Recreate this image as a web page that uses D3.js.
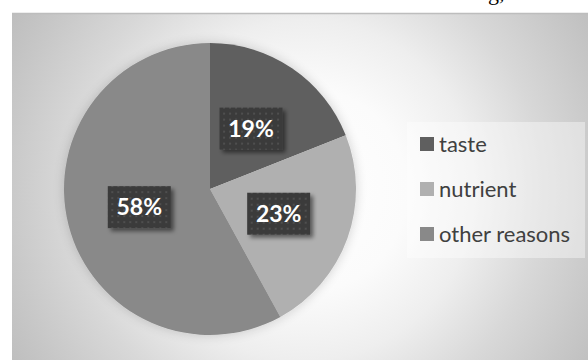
<!DOCTYPE html>
<html>
<head>
<meta charset="utf-8">
<script src="https://cdn.jsdelivr.net/npm/d3@7"></script>
<style>
  html, body { margin: 0; padding: 0; background: #ffffff; }
  svg { display: block; }
</style>
</head>
<body>
<svg id="chart" width="588" height="360"></svg>
<script>
// Reasons for choosing — share of respondents
const categories = ["taste", "nutrient", "other reasons"];
const shares = [19, 23, 58];
const sliceColors = ["#5f5f5f", "#b0b0b0", "#898989"];

const W = 588, H = 360;
const svg = d3.select("#chart");
const defs = svg.append("defs");

// Chart-area radial gradient
const grad = defs.append("radialGradient")
  .attr("id", "bgGrad")
  .attr("gradientUnits", "userSpaceOnUse")
  .attr("cx", 305).attr("cy", 190).attr("r", 340);
[[0, "#ffffff"], [0.3, "#fbfbfb"], [0.5, "#eeeeee"], [0.7, "#d8d8d8"], [0.88, "#c8c8c8"], [1, "#bebebe"]]
  .forEach(([o, c]) => grad.append("stop").attr("offset", o).attr("stop-color", c));

// Soft shadow around the pie
const pieShadow = defs.append("filter").attr("id", "pieShadow")
  .attr("x", "-20%").attr("y", "-20%").attr("width", "140%").attr("height", "140%");
pieShadow.append("feGaussianBlur").attr("in", "SourceAlpha").attr("stdDeviation", 6).attr("result", "b");
pieShadow.append("feOffset").attr("in", "b").attr("dx", 0).attr("dy", 0).attr("result", "o");
pieShadow.append("feComponentTransfer").attr("in", "o").attr("result", "s")
  .append("feFuncA").attr("type", "linear").attr("slope", 0.18);
const m1 = pieShadow.append("feMerge");
m1.append("feMergeNode").attr("in", "s");
m1.append("feMergeNode").attr("in", "SourceGraphic");

// Label box shadow
const boxShadow = defs.append("filter").attr("id", "boxShadow")
  .attr("x", "-30%").attr("y", "-30%").attr("width", "160%").attr("height", "160%");
boxShadow.append("feGaussianBlur").attr("in", "SourceAlpha").attr("stdDeviation", 2).attr("result", "b");
boxShadow.append("feOffset").attr("in", "b").attr("dx", 3).attr("dy", 3).attr("result", "o");
boxShadow.append("feComponentTransfer").attr("in", "o").attr("result", "s")
  .append("feFuncA").attr("type", "linear").attr("slope", 0.5);
const m2 = boxShadow.append("feMerge");
m2.append("feMergeNode").attr("in", "s");
m2.append("feMergeNode").attr("in", "SourceGraphic");

// Dotted fill for label boxes
const pat = defs.append("pattern").attr("id", "dots")
  .attr("patternUnits", "userSpaceOnUse").attr("width", 6).attr("height", 6);
pat.append("rect").attr("width", 6).attr("height", 6).attr("fill", "#3b3b3b");
pat.append("rect").attr("x", 2).attr("y", 2).attr("width", 2).attr("height", 2).attr("fill", "#4f4f4f");

// Fragment of the line above the chart
svg.append("text")
  .attr("x", 488).attr("y", 0)
  .attr("font-family", "'Liberation Serif', 'Times New Roman', serif")
  .attr("font-size", 22).attr("fill", "#000")
  .text("g,");

// Chart area
const area = { x: 12, y: 13, w: W - 12, h: H - 13 };
svg.append("rect")
  .attr("x", area.x).attr("y", area.y).attr("width", area.w).attr("height", area.h)
  .attr("fill", "url(#bgGrad)");
svg.append("line")
  .attr("x1", area.x).attr("x2", W).attr("y1", area.y + 0.5).attr("y2", area.y + 0.5)
  .attr("stroke", "#bdbdbd").attr("stroke-width", 1.5);

// Pie
const cx = 210, cy = 189, R = 146;
const pie = d3.pie().sort(null).value(d => d);
const arcs = pie(shares);
const arc = d3.arc().innerRadius(0).outerRadius(R);
const color = d3.scaleOrdinal().domain(categories).range(sliceColors);

const g = svg.append("g").attr("transform", `translate(${cx},${cy})`);
g.append("g").attr("filter", "url(#pieShadow)")
  .selectAll("path").data(arcs).join("path")
  .attr("d", arc)
  .attr("fill", (d, i) => color(categories[i]));

// Data labels
const fmt = d3.format(".0%");
const total = d3.sum(shares);
const labelFont = "Lato, 'Open Sans', sans-serif";
const lab = g.selectAll("g.lab").data(arcs).join("g").attr("class", "lab")
  .attr("transform", d => `translate(${arc.centroid(d)})`);
lab.append("rect")
  .attr("x", -31.5).attr("y", -21).attr("width", 63).attr("height", 42)
  .attr("fill", "url(#dots)")
  .attr("filter", "url(#boxShadow)");
lab.append("text")
  .attr("text-anchor", "middle").attr("dy", "0.36em")
  .attr("font-family", labelFont).attr("font-weight", 700)
  .attr("font-size", 23).attr("fill", "#ffffff")
  .text(d => fmt(d.value / total));

// Legend
const legend = svg.append("g");
legend.append("rect")
  .attr("x", 407).attr("y", 122).attr("width", 178).attr("height", 136)
  .attr("fill", "#ffffff").attr("fill-opacity", 0.4);
const ly = d3.scalePoint().domain(categories).range([144, 234]);
const items = legend.selectAll("g.item").data(categories).join("g").attr("class", "item")
  .attr("transform", d => `translate(420,${ly(d)})`);
items.append("rect")
  .attr("x", 0).attr("y", -7).attr("width", 14).attr("height", 14)
  .attr("fill", d => color(d));
items.append("text")
  .attr("x", 19).attr("y", 0).attr("dy", "0.36em")
  .attr("font-family", labelFont).attr("font-size", 22)
  .attr("fill", "#404040")
  .text(d => d);
</script>
</body>
</html>
